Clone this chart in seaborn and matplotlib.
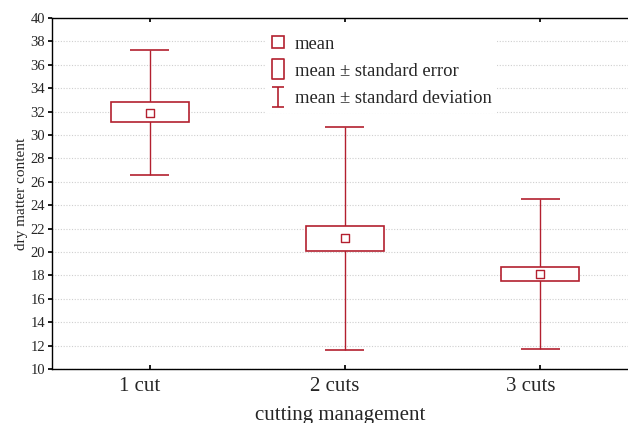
import matplotlib
matplotlib.use("Agg")
import matplotlib.pyplot as plt
import seaborn as sns
import numpy as np
import pandas as pd
from matplotlib.lines import Line2D
from matplotlib.path import Path

categories = ["1 cut", "2 cuts", "3 cuts"]
means = [31.9, 21.2, 18.1]
se_low = [31.15, 20.1, 17.5]
se_high = [32.8, 22.25, 18.7]
sd_low = [26.6, 11.6, 11.7]
sd_high = [37.3, 30.7, 24.5]
yticks = list(range(10, 41, 2))

RED = "#b3202f"

sns.set_theme(style="white")
plt.rcParams["font.family"] = ["Liberation Serif", "DejaVu Serif"]

df = pd.DataFrame({"cut": categories, "mean": means})

fig = plt.figure(figsize=(6.28, 4.23), dpi=100)
ax = fig.add_axes([52/628, 1-369/423, 1-52/628, (369-18)/423])

x = np.arange(len(categories))
ax.set_ylim(10, 40)
ax.set_xlim(-0.5, 2.45)
ax.set_yticks(yticks)
ax.yaxis.grid(True, linestyle=(0, (1, 1.5)), color="#cfcfcf", linewidth=0.8)
ax.set_axisbelow(True)

# whiskers (SD)
for i in range(len(categories)):
    ax.vlines(x[i], sd_low[i], sd_high[i], color=RED, lw=1.0, zorder=2)
    ax.hlines([sd_low[i], sd_high[i]], x[i]-0.1, x[i]+0.1, color=RED, lw=1.2, zorder=2)

# boxes (SE)
ax.bar(x, np.array(se_high)-np.array(se_low), bottom=se_low, width=0.4,
       facecolor="white", edgecolor=RED, linewidth=1.2, zorder=3)

# means
sns.scatterplot(data=df, x=x, y="mean", ax=ax, marker="s", s=30,
                facecolor="white", edgecolor=RED, linewidth=1.0, zorder=4, legend=False)

# major ticks (marks only) at category centres, labels on minor ticks slightly left
ax.set_xticks(x)
ax.set_xticklabels([])
ax.set_xticks(x - 0.05, minor=True)
ax.set_xticklabels(categories, minor=True, fontsize=15)
ax.set_yticklabels([str(t) for t in yticks], fontsize=10.5)
ax.set_xlabel("cutting management", fontsize=15, labelpad=7)
ax.set_ylabel("dry matter content", fontsize=11, labelpad=2)

for s in ["left", "bottom", "top"]:
    ax.spines[s].set_visible(True)
    ax.spines[s].set_color("black")
    ax.spines[s].set_linewidth(1.0)
ax.spines["right"].set_visible(False)
ax.tick_params(axis="x", which="major", direction="in", length=3, top=True, bottom=True, color="black")
ax.tick_params(axis="x", which="minor", length=0, pad=6, top=False, bottom=True)
ax.tick_params(axis="y", direction="out", length=3, color="black", pad=2, left=True)

# legend
rect_path = Path([(-0.58, -1), (0.58, -1), (0.58, 1), (-0.58, 1), (-0.58, -1)],
                 [Path.MOVETO, Path.LINETO, Path.LINETO, Path.LINETO, Path.CLOSEPOLY])
ibeam = Path([(-0.58, 1), (0.58, 1), (0, 1), (0, -1), (-0.58, -1), (0.58, -1)],
             [Path.MOVETO, Path.LINETO, Path.MOVETO, Path.LINETO, Path.MOVETO, Path.LINETO])
handles = [
    Line2D([], [], marker="s", ls="", markersize=8, markerfacecolor="white",
           markeredgecolor=RED, markeredgewidth=1.2),
    Line2D([], [], marker=rect_path, ls="", markersize=14, markerfacecolor="white",
           markeredgecolor=RED, markeredgewidth=1.2),
    Line2D([], [], marker=ibeam, ls="", markersize=14, markerfacecolor="none",
           markeredgecolor=RED, markeredgewidth=1.2),
]
labels = ["mean", "mean \u00b1 standard error", "mean \u00b1 standard deviation"]
leg = fig.legend(handles, labels, loc="upper left", bbox_to_anchor=(265/628, 1-30/423),
                 frameon=True, fancybox=False, fontsize=13.4, handlelength=0.8,
                 handletextpad=0.5, labelspacing=0.55, borderpad=0.3, borderaxespad=0)
leg.get_frame().set_facecolor("white")
leg.get_frame().set_edgecolor("none")
leg.get_frame().set_alpha(1)

fig.savefig("out.png", dpi=100)
